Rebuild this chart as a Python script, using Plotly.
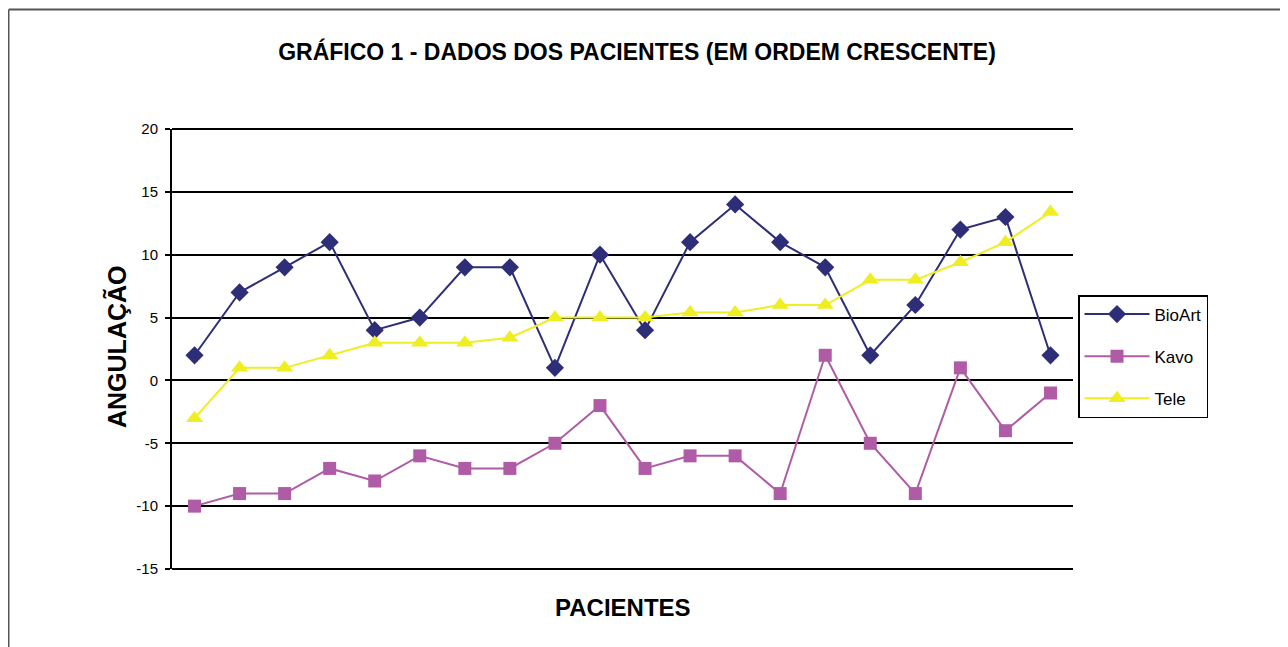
import plotly.graph_objects as go

pacientes = list(range(1, 21))
bioart = [2, 7, 9, 11, 4, 5, 9, 9, 1, 10, 4, 11, 14, 11, 9, 2, 6, 12, 13, 2]
kavo = [-10, -9, -9, -7, -8, -6, -7, -7, -5, -2, -7, -6, -6, -9, 2, -5, -9, 1, -4, -1]
tele = [-3, 1, 1, 2, 3, 3, 3, 3.4, 5, 5, 5, 5.4, 5.4, 6, 6, 8, 8, 9.4, 11, 13.4]
y_ticks = [-15, -10, -5, 0, 5, 10, 15, 20]
y_tick_text = ["-15", "-10", "-5", "0", "5", "10", "15", "20"]

# page body adds an 8px offset
OFF = 8
W, H = 1288, 647
L, R, T, B = 172 - OFF, 1073 - OFF, 129 - OFF, 569 - OFF
pw, ph = R - L, B - T

fig = go.Figure()
fig.add_trace(go.Scatter(x=pacientes, y=bioart, name="BioArt", mode="lines+markers",
                         legendgroup="a",
                         line=dict(color="#2E2E78", width=2),
                         marker=dict(symbol="diamond", size=14, color="#2E2E78")))
fig.add_trace(go.Scatter(x=pacientes, y=kavo, name="Kavo", mode="lines+markers",
                         legendgroup="b",
                         line=dict(color="#B05BA6", width=2),
                         marker=dict(symbol="square", size=13, color="#B05BA6")))
fig.add_trace(go.Scatter(x=pacientes, y=tele, name="Tele", mode="lines+markers",
                         legendgroup="c",
                         line=dict(color="#EEEE22", width=2),
                         marker=dict(symbol="triangle-up", size=15, color="#EEEE22")))

fig.update_layout(
    width=W, height=H,
    margin=dict(l=L, r=W - R, t=T, b=H - B),
    paper_bgcolor="white", plot_bgcolor="white",
    font=dict(family="Arial, Liberation Sans, sans-serif", color="black", size=15),
    title=dict(text="<b>GRÁFICO 1 - DADOS DOS PACIENTES (EM ORDEM CRESCENTE)</b>",
               x=(637 - OFF) / W, xanchor="center", y=1 - (52 - OFF) / H, yanchor="middle",
               font=dict(size=23, color="black")),
    showlegend=True,
    legend=dict(x=(1078 - OFF - L) / pw, xanchor="left", y=(B - (295 - OFF)) / ph,
                yanchor="top",
                bordercolor="black", borderwidth=1.5, bgcolor="white",
                font=dict(size=17), tracegroupgap=17, traceorder="grouped",
                itemwidth=65),
    xaxis=dict(range=[0.5, 20.5], showticklabels=False, showgrid=False, zeroline=False,
               ticks="", showline=False),
    yaxis=dict(range=[y_ticks[0], y_ticks[-1]], tickvals=y_ticks, ticktext=y_tick_text,
               showgrid=True, gridcolor="black",
               gridwidth=2, zeroline=False, showline=True, linecolor="black", linewidth=2,
               ticks="outside", ticklen=5, tickwidth=2, tickcolor="black",
               tickfont=dict(size=15), ticklabelstandoff=4),
)

# edge gridlines at the bottom (paper 0) and top (paper 1) of the value range
for py in (0, 1):
    fig.add_shape(type="line", xref="paper", yref="paper", x0=0, x1=1, y0=py, y1=py,
                  line=dict(color="black", width=2), layer="below")

fig.add_annotation(text="<b>ANGULAÇÃO</b>", xref="paper", yref="paper",
                   x=(116 - OFF - L) / pw, y=(B - (347 - OFF)) / ph, textangle=-90,
                   showarrow=False,
                   font=dict(size=25, color="black"), xanchor="center", yanchor="middle")
fig.add_annotation(text="<b>PACIENTES</b>", xref="paper", yref="paper",
                   x=(623 - OFF - L) / pw, y=(B - (607 - OFF)) / ph, showarrow=False,
                   font=dict(size=24, color="black"), xanchor="center", yanchor="middle")

# outer chart frame (left and top edges visible)
fig.add_shape(type="line", xref="paper", yref="paper",
              x0=(0.75 - L) / pw, x1=(W - L) / pw, y0=(B - 1.5) / ph, y1=(B - 1.5) / ph,
              line=dict(color="#555555", width=2), layer="above")
fig.add_shape(type="line", xref="paper", yref="paper",
              x0=(0.75 - L) / pw, x1=(0.75 - L) / pw, y0=(B - H) / ph, y1=(B - 1.5) / ph,
              line=dict(color="#555555", width=1.5), layer="above")

fig.write_html("out.html")
